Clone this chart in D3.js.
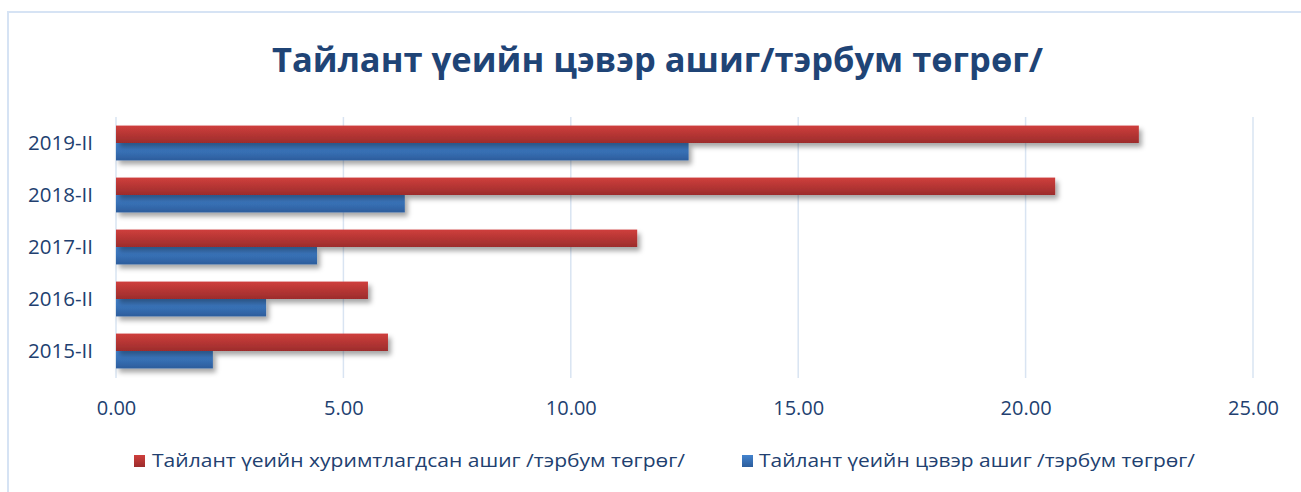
<!DOCTYPE html>
<html>
<head>
<meta charset="utf-8">
<script src="https://cdn.jsdelivr.net/npm/d3@7"></script>
<style>
  html, body { margin: 0; padding: 0; background: #fff; }
  svg { display: block; }
</style>
</head>
<body>
<svg id="chart" width="1301" height="492"></svg>
<script>
// ---- data ----
const categories = ["2015-II", "2016-II", "2017-II", "2018-II", "2019-II"];
const accumulatedProfit = [5.98, 5.54, 11.46, 20.65, 22.49];   // red series
const netProfit = [2.13, 3.30, 4.42, 6.35, 12.59];            // blue series
const seriesNames = [
  "Тайлант үеийн хуримтлагдсан ашиг /тэрбум төгрөг/",
  "Тайлант үеийн цэвэр ашиг /тэрбум төгрөг/"
];
const xTicks = [0, 5, 10, 15, 20, 25];
const titleText = "Тайлант үеийн цэвэр ашиг/тэрбум төгрөг/";

// ---- setup ----
const svg = d3.select("#chart");
const W = 1301, H = 492;
const FONT = "'Open Sans', 'Noto Sans', sans-serif";
const textColor = "#223F70";

const defs = svg.append("defs");
function grad(id, top, bottom) {
  const g = defs.append("linearGradient").attr("id", id)
    .attr("x1", 0).attr("y1", 0).attr("x2", 0).attr("y2", 1);
  g.append("stop").attr("offset", "0%").attr("stop-color", top);
  g.append("stop").attr("offset", "100%").attr("stop-color", bottom);
}
grad("gRed", "#CF3F3C", "#9C2C2C");
grad("gBlue", "#4383CE", "#2C5D9C");
const f = defs.append("filter").attr("id", "shadow")
  .attr("x", "-5%").attr("y", "-30%").attr("width", "115%").attr("height", "190%");
f.append("feDropShadow").attr("dx", 3).attr("dy", 4).attr("stdDeviation", 2.5)
  .attr("flood-color", "#000").attr("flood-opacity", 0.35);

// chart border
svg.append("path")
  .attr("d", `M8,${H} L8,12 L${W},12`)
  .attr("fill", "none").attr("stroke", "#D6E3F4").attr("stroke-width", 2);

// scales
const x = d3.scaleLinear().domain([0, 25]).range([116, 1253]);
const y = d3.scaleBand().domain(categories.slice().reverse())
  .range([117, 377]).paddingInner(0.33).paddingOuter(0.165);
const sub = d3.scaleBand().domain([0, 1]).range([0, y.bandwidth()]);

// gridlines
svg.append("g").selectAll("line").data(xTicks).join("line")
  .attr("x1", d => x(d)).attr("x2", d => x(d))
  .attr("y1", 117).attr("y2", 378)
  .attr("stroke", "#D9E4F2").attr("stroke-width", 1.5);

// bars
const seriesData = [
  { vals: accumulatedProfit, fill: "url(#gRed)" },
  { vals: netProfit, fill: "url(#gBlue)" }
];
[1, 0].forEach(si => {
  svg.append("g").attr("filter", "url(#shadow)")
    .selectAll("rect").data(categories).join("rect")
    .attr("x", x(0))
    .attr("y", (c) => y(c) + sub(si))
    .attr("width", (c, i) => x(seriesData[si].vals[i]) - x(0))
    .attr("height", sub.bandwidth())
    .attr("fill", seriesData[si].fill);
});

// y axis labels
const yAxis = d3.axisLeft(y).tickSize(0).tickPadding(0);
const yg = svg.append("g").attr("transform", "translate(93,0)").call(yAxis);
yg.select(".domain").remove();
yg.selectAll("text").attr("font-family", FONT).attr("font-size", 20.5)
  .attr("fill", textColor).attr("dy", "0.35em");

// x axis labels
const xAxis = d3.axisBottom(x).tickValues(xTicks).tickFormat(d3.format(".2f")).tickSize(0).tickPadding(0);
const xg = svg.append("g").attr("transform", "translate(0,401)").call(xAxis);
xg.select(".domain").remove();
xg.selectAll("text").attr("font-family", FONT).attr("font-size", 20)
  .attr("fill", textColor).attr("dy", "0.71em");

// title
svg.append("text").attr("x", 272).attr("y", 72)
  .attr("font-family", FONT).attr("font-weight", 700).attr("font-size", 34)
  .attr("fill", "#1F4476")
  .attr("textLength", 771).attr("lengthAdjust", "spacingAndGlyphs")
  .text(titleText);

// legend
const legend = [
  { sx: 134, tx: 152, tw: 533, fill: "url(#gRed)" },
  { sx: 742, tx: 759, tw: 436, fill: "url(#gBlue)" }
];
legend.forEach((l, i) => {
  svg.append("rect").attr("x", l.sx).attr("y", 455).attr("width", 11).attr("height", 12)
    .attr("fill", l.fill);
  svg.append("text").attr("x", l.tx).attr("y", 467)
    .attr("font-family", FONT).attr("font-size", 18).attr("fill", textColor)
    .attr("textLength", l.tw).attr("lengthAdjust", "spacingAndGlyphs")
    .text(seriesNames[i]);
});
</script>
</body>
</html>
